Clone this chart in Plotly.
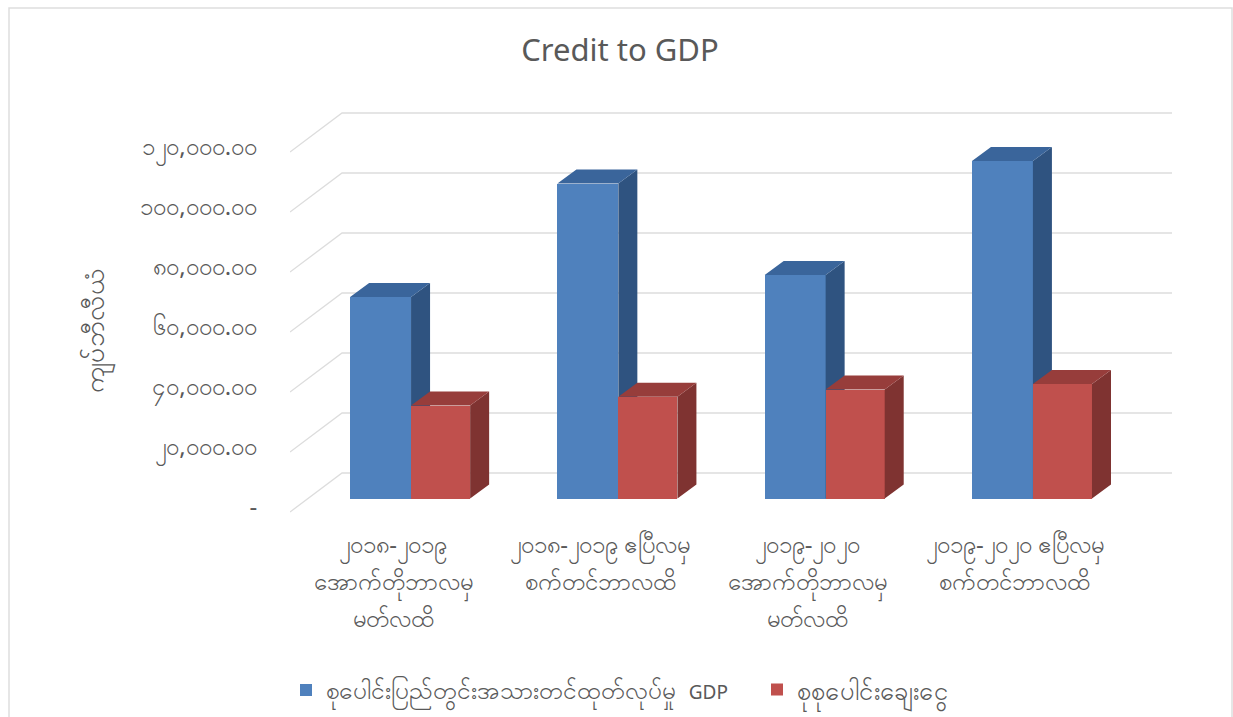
import plotly.graph_objects as go

# ---------- data ----------
category_lines = [
    ["၂၀၁၈-၂၀၁၉", "အောက်တိုဘာလမှ", "မတ်လထိ"],
    ["၂၀၁၈-၂၀၁၉ ဧပြီလမှ", "စက်တင်ဘာလထိ"],
    ["၂၀၁၉-၂၀၂၀", "အောက်တိုဘာလမှ", "မတ်လထိ"],
    ["၂၀၁၉-၂၀၂၀ ဧပြီလမှ", "စက်တင်ဘာလထိ"],
]
gdp_values = [67200, 105000, 74500, 112500]
credit_values = [31000, 33900, 36300, 38200]
tick_values = [0, 20000, 40000, 60000, 80000, 100000, 120000]
tick_labels = ["-", "၂၀,၀၀၀.၀၀", "၄၀,၀၀၀.၀၀", "၆၀,၀၀၀.၀၀", "၈၀,၀၀၀.၀၀", "၁၀၀,၀၀၀.၀၀", "၁၂၀,၀၀၀.၀၀"]
gdp_name = 'စုပေါင်းပြည်တွင်းအသားတင်ထုတ်လုပ်မှု&nbsp;&nbsp;<span style="font-size:19px">GDP</span>'
credit_name = "စုစုပေါင်းချေးငွေ"
y_title = "ကျပ်ဘီလီယံ"
title = "Credit to GDP"

# ---------- projection of the pseudo 3-D (axis units) ----------
positions = list(range(len(category_lines)))
X_RANGE = [-0.497, 3.758]
Y_RANGE = [-667, 137333]
PLOT_L, PLOT_R, PLOT_T, PLOT_B = 290, 1172, 100, 514
PW, PH = PLOT_R - PLOT_L, PLOT_B - PLOT_T
WALL_DX, WALL_DY = 0.251, 13000      # wall depth
BAR_DX, BAR_DY = 0.0917, 4667        # column depth
BAR_BASE = 4500
GDP_W, CREDIT_W = 0.294, 0.285
GDP_OFF, CREDIT_OFF = -0.207, 0.087

FONT = "Noto Sans, Open Sans, sans-serif"
GREY = "#595959"

# the line pitch of a multi-line label follows the outer font size
ticktext = ["<br>".join(f'<span style="font-size:24px">{s}</span>' for s in lines)
            for lines in category_lines]


def px(x):
    return (x - PLOT_L) / PW


def py(y):
    return (PLOT_B - y) / PH


def faces(values, off, w):
    sx, sy, tx, ty = [], [], [], []
    for p, v in zip(positions, values):
        l, r = p + off, p + off + w
        b, t = BAR_BASE, BAR_BASE + v
        sx += [r, r + BAR_DX, r + BAR_DX, r, r, None]
        sy += [b, b + BAR_DY, t + BAR_DY, t, b, None]
        tx += [l, l + BAR_DX, r + BAR_DX, r, l, None]
        ty += [t, t + BAR_DY, t + BAR_DY, t, t, None]
    return sx, sy, tx, ty


def poly(x, y, color, xa, ya):
    return go.Scatter(x=x, y=y, xaxis=xa, yaxis=ya, mode="lines", fill="toself",
                      fillcolor=color, line=dict(width=0, color=color),
                      hoverinfo="skip", showlegend=False)


fig = go.Figure()

# wall grid lines
gx, gy = [], []
for v in tick_values:
    gx += [X_RANGE[0], X_RANGE[0] + WALL_DX, X_RANGE[1], None]
    gy += [v, v + WALL_DY, v + WALL_DY, None]
fig.add_trace(go.Scatter(x=gx, y=gy, mode="lines", line=dict(color="#dddddd", width=1.3),
                         hoverinfo="skip", showlegend=False))

# GDP columns
fig.add_trace(go.Bar(x=positions, y=gdp_values, base=BAR_BASE, width=GDP_W, offset=GDP_OFF,
                     name=gdp_name, marker=dict(color="#4f81bd", line_width=0),
                     xaxis="x2", yaxis="y2", legend="legend"))
sx, sy, tx, ty = faces(gdp_values, GDP_OFF, GDP_W)
fig.add_trace(poly(sx, sy, "#2f5380", "x2", "y2"))
fig.add_trace(poly(tx, ty, "#3a659b", "x2", "y2"))

# credit columns
fig.add_trace(go.Bar(x=positions, y=credit_values, base=BAR_BASE, width=CREDIT_W, offset=CREDIT_OFF,
                     name=credit_name, marker=dict(color="#c0504d", line_width=0),
                     xaxis="x3", yaxis="y3", legend="legend2"))
sx, sy, tx, ty = faces(credit_values, CREDIT_OFF, CREDIT_W)
fig.add_trace(poly(sx, sy, "#7f3331", "x3", "y3"))
fig.add_trace(poly(tx, ty, "#973d3b", "x3", "y3"))

hidden = dict(visible=False, fixedrange=True)
legend_base = dict(orientation="h", yanchor="middle", xanchor="left", y=py(690),
                   bgcolor="rgba(0,0,0,0)", itemwidth=30)
fig.update_layout(
    width=1233, height=717,
    margin=dict(l=PLOT_L, r=1233 - PLOT_R, t=PLOT_T, b=717 - PLOT_B, autoexpand=False),
    paper_bgcolor="white", plot_bgcolor="white",
    title=dict(text=title, x=620 / 1233, xanchor="center", y=1 - 50 / 717, yanchor="middle",
               font=dict(family=FONT, size=31, color=GREY)),
    bargap=0,
    xaxis=dict(range=X_RANGE, tickmode="array", tickvals=positions, ticktext=ticktext,
               showgrid=False, zeroline=False, showline=False,
               ticks="outside", ticklen=4, tickcolor="rgba(0,0,0,0)",
               tickfont=dict(family=FONT, size=28.5, color=GREY), tickangle=0, fixedrange=True),
    yaxis=dict(range=Y_RANGE, tickmode="array", tickvals=tick_values, ticktext=tick_labels,
               showgrid=False, zeroline=False, showline=False,
               ticks="outside", ticklen=27, tickcolor="rgba(0,0,0,0)", ticklabelshift=-5,
               tickfont=dict(family=FONT, size=24, color=GREY), fixedrange=True),
    xaxis2=dict(range=X_RANGE, overlaying="x", **hidden),
    yaxis2=dict(range=Y_RANGE, overlaying="y", **hidden),
    xaxis3=dict(range=X_RANGE, overlaying="x", **hidden),
    yaxis3=dict(range=Y_RANGE, overlaying="y", **hidden),
    legend=dict(x=px(286), font=dict(family=FONT, size=24.5, color=GREY), **legend_base),
    legend2=dict(x=px(757), font=dict(family=FONT, size=25.5, color=GREY), **legend_base),
    annotations=[dict(text=y_title, xref="paper", yref="paper", showarrow=False,
                      x=px(72), y=py(331), textangle=-90,
                      font=dict(family=FONT, size=27, color=GREY))],
    shapes=[dict(type="rect", xref="paper", yref="paper", layer="below",
                 x0=px(9), x1=px(1232), y0=py(730), y1=py(8),
                 line=dict(color="#dedede", width=1.5), fillcolor="rgba(0,0,0,0)")],
)

fig.write_html("out.html", config={"displayModeBar": False},
               post_script="document.body.style.margin='0';")
